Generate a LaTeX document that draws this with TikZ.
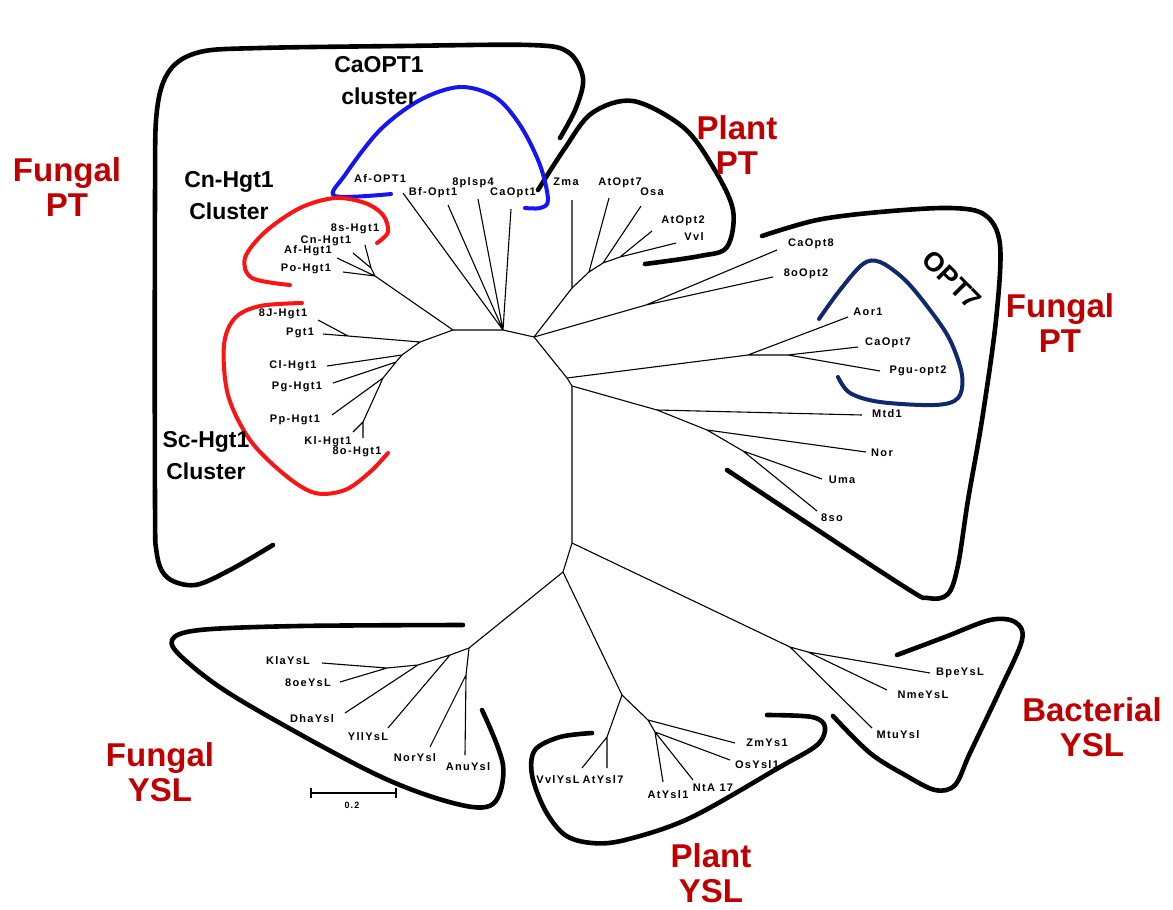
\documentclass[tikz,border=0pt]{standalone}
\usepackage{fontspec}
\setmainfont{Liberation Sans}
\newfontfamily\tipfont[LetterSpace=12]{Liberation Sans}
\definecolor{labred}{RGB}{192,0,0}
\definecolor{navy}{RGB}{16,40,110}
\definecolor{cblue}{RGB}{20,20,245}
\definecolor{cred}{RGB}{250,20,20}
\begin{document}
\begin{tikzpicture}[x=1pt,y=-1pt,
  tip/.style={font=\tipfont\bfseries\fontsize{11}{12}\selectfont, inner sep=0pt},
  br/.style={line width=1.1pt},
  hull/.style={line width=4.6pt, line cap=round, line join=round},
  cl/.style={line width=4pt, line cap=round, line join=round},
  grp/.style={font=\bfseries\fontsize{33}{35}\selectfont, text=labred, align=center},
  clu/.style={font=\bfseries\fontsize{23}{32}\selectfont, align=center}]
\useasboundingbox (0,0) rectangle (1173,910);

% ---------------- outlines ----------------
\draw[hull] plot[smooth, tension=0.55] coordinates {(273,545) (230,570) (195,585) (168,578) (157,555) (155,500) (155,200) (157,110) (170,70) (200,52) (260,48) (400,46) (530,45) (568,52) (583,78) (576,108) (560,138)};
\draw[hull] plot[smooth, tension=0.55] coordinates {(538,190) (565,148) (592,113) (633,101) (683,127) (713,167) (733,210) (727,247) (700,256) (645,264)};
\draw[hull] plot[smooth, tension=0.55] coordinates {(762,236) (817,220) (880,212) (950,208) (985,215) (1000,245) (996,320) (982,420) (968,500) (958,565) (948,594) (928,598) (900,584) (727,470)};
\draw[hull] plot[smooth, tension=0.55] coordinates {(463,625) (300,626) (200,630) (172,640) (185,660) (240,700) (373,773) (453,803) (493,804) (503,765) (482,710)};
\draw[hull] plot[smooth, tension=0.55] coordinates {(592,733) (560,737) (535,750) (532,775) (545,810) (565,835) (592,843) (625,840) (690,818) (780,767) (817,745) (825,727) (812,717) (767,715)};
\draw[hull] plot[smooth, tension=0.55] coordinates {(897,655) (945,637) (990,620) (1015,622) (1022,640) (1000,690) (970,753) (955,785) (935,790) (905,775) (870,753) (833,716)};
\draw[cl, cblue] plot[smooth, tension=0.55] coordinates {(391,194) (335,196) (345,175) (380,130) (420,100) (460,87) (495,97) (520,125) (540,165) (548,200) (540,208) (525,208)};
\draw[cl, cred] plot[smooth, tension=0.55] coordinates {(377,243) (388,232) (383,215) (365,203) (335,198) (300,208) (265,232) (245,258) (252,278) (290,285)};
\draw[cl, cred] plot[smooth, tension=0.55] coordinates {(302,303) (260,306) (235,318) (224,345) (228,395) (250,440) (285,475) (315,493) (345,490) (370,472) (388,453)};
\draw[cl, navy] plot[smooth, tension=0.55] coordinates {(819,319) (840,290) (863,264) (880,262) (905,280) (930,310) (950,340) (962,375) (958,398) (935,405) (880,402) (850,393) (838,377)};

% ---------------- internal nodes ----------------
\coordinate (T0) at (453,330);
\coordinate (T1) at (503,330);
\coordinate (T2) at (534,337);
\coordinate (T3) at (567,378);
\coordinate (T4) at (572,386);
\coordinate (T5) at (572,543);
\coordinate (T6) at (563,572);
\coordinate (H0) at (375,276);
\coordinate (H1) at (371,268);
\coordinate (S0) at (420,342);
\coordinate (SJ) at (348,336);
\coordinate (S1) at (402,355);
\coordinate (S1b) at (396,362);
\coordinate (S2) at (383,378);
\coordinate (S3) at (363,422);
\coordinate (A) at (572,288);
\coordinate (B) at (589,272);
\coordinate (C) at (603,263);
\coordinate (D) at (620,257);
\coordinate (E) at (646,305);
\coordinate (O1) at (748,355);
\coordinate (O2) at (788,355);
\coordinate (M1) at (657,410);
\coordinate (M2) at (707,430);
\coordinate (M3) at (743,451);
\coordinate (B1) at (790,647);
\coordinate (B2) at (808,652);
\coordinate (F0) at (469,648);
\coordinate (F1) at (466,675);
\coordinate (F2) at (450,655);
\coordinate (F3) at (418,665);
\coordinate (F4) at (387,668);
\coordinate (P0) at (622,695);
\coordinate (Q1) at (607,737);
\coordinate (R1) at (648,720);
\coordinate (R2) at (655,732);

% ---------------- tip ends ----------------
\coordinate (e8s) at (365,245);
\coordinate (eCn) at (353,253);
\coordinate (eAf) at (337,258);
\coordinate (ePo) at (343,272);
\coordinate (e8J) at (318,320);
\coordinate (ePgt) at (323,334);
\coordinate (eCl) at (327,366);
\coordinate (ePg) at (333,383);
\coordinate (ePp) at (332,415);
\coordinate (eKl) at (353,432);
\coordinate (e8o) at (363,438);
\coordinate (eAfO) at (403,193);
\coordinate (eBf) at (448,205);
\coordinate (e8p) at (478,199);
\coordinate (eCa1) at (511,209);
\coordinate (eZma) at (572,200);
\coordinate (eAt7) at (609,198);
\coordinate (eOsa) at (641,206);
\coordinate (eAt2) at (652,231);
\coordinate (eVvl) at (676,243);
\coordinate (eCa8) at (777,250);
\coordinate (e8o2) at (773,277);
\coordinate (eAor) at (848,317);
\coordinate (eCa7) at (858,347);
\coordinate (ePgu) at (880,371);
\coordinate (eMtd) at (862,415);
\coordinate (eNor) at (866,452);
\coordinate (eUma) at (822,479);
\coordinate (e8so) at (817,511);
\coordinate (eBpe) at (930,673);
\coordinate (eNme) at (887,690);
\coordinate (eMtu) at (872,728);
\coordinate (eAnu) at (465,755);
\coordinate (eNorY) at (430,747);
\coordinate (eYll) at (388,728);
\coordinate (eDha) at (345,713);
\coordinate (eKla) at (322,663);
\coordinate (e8oe) at (340,682);
\coordinate (eVvlY) at (582,768);
\coordinate (eAt7Y) at (607,768);
\coordinate (eZm) at (735,743);
\coordinate (eOs) at (730,760);
\coordinate (eNt) at (693,780);
\coordinate (eAt1) at (663,782);

% ---------------- branches ----------------
\draw[br] (T0) -- (T1) -- (T2) -- (T3) -- (T4) -- (T5) -- (T6);
\draw[br] (T0) -- (H0) (H0) -- (H1) (H1) -- (e8s) (H1) -- (eCn) (H0) -- (eAf) (H0) -- (ePo);
\draw[br] (T0) -- (S0) (S0) -- (SJ) (SJ) -- (ePgt) (SJ) -- (e8J) (S0) -- (S1) (S1) -- (eCl) (S1) -- (S1b) (S1b) -- (ePg) (S1b) -- (S2) (S2) -- (ePp) (S2) -- (S3) (S3) -- (eKl) (S3) -- (e8o);
\draw[br] (T1) -- (eAfO) (T1) -- (eBf) (T1) -- (e8p) (T1) -- (eCa1);
\draw[br] (T2) -- (A) (A) -- (eZma) (A) -- (B) (B) -- (eAt7) (B) -- (C) (C) -- (eOsa) (C) -- (D) (D) -- (eAt2) (D) -- (eVvl);
\draw[br] (T2) -- (E) (E) -- (eCa8) (E) -- (e8o2);
\draw[br] (T3) -- (O1) (O1) -- (eAor) (O1) -- (O2) (O2) -- (eCa7) (O2) -- (ePgu);
\draw[br] (T4) -- (M1) (M1) -- (eMtd) (M1) -- (M2) (M2) -- (eNor) (M2) -- (M3) (M3) -- (eUma) (M3) -- (e8so);
\draw[br] (T5) -- (B1) (B1) -- (eMtu) (B1) -- (B2) (B2) -- (eBpe) (B2) -- (eNme);
\draw[br] (T6) -- (F0) (F0) -- (F1) (F1) -- (eAnu) (F1) -- (eNorY) (F0) -- (F2) (F2) -- (eYll) (F2) -- (F3) (F3) -- (eDha) (F3) -- (F4) (F4) -- (eKla) (F4) -- (e8oe);
\draw[br] (T6) -- (P0) (P0) -- (Q1) (Q1) -- (eVvlY) (Q1) -- (eAt7Y) (P0) -- (R1) (R1) -- (eZm) (R1) -- (R2) (R2) -- (eOs) (R2) -- (eNt) (R2) -- (eAt1);

% ---------------- tip labels ----------------
\node[tip] (lAfO) at (380,179) {Af-OPT1};
\node[tip] (lBf) at (433,193) {Bf-Opt1};
\node[tip] (l8p) at (473,183) {8plsp4};
\node[tip] (lCa1) at (513,193) {CaOpt1};
\node[tip] (lZma) at (566,182) {Zma};
\node[tip] (lAt7) at (620,183) {AtOpt7};
\node[tip] (lOsa) at (652,192) {Osa};
\node[tip] (lAt2) at (683,221) {AtOpt2};
\node[tip] (lVvl) at (694,237) {Vvl};
\node[tip] (lCa8) at (811,244) {CaOpt8};
\node[tip] (l8o2) at (806,274) {8oOpt2};
\node[tip] (lAor) at (868,312) {Aor1};
\node[tip] (lCa7) at (888,343) {CaOpt7};
\node[tip] (lPgu) at (918,371) {Pgu-opt2};
\node[tip] (lMtd) at (887,414) {Mtd1};
\node[tip] (lNor) at (882,453) {Nor};
\node[tip] (lUma) at (842,480) {Uma};
\node[tip] (l8so) at (832,518) {8so};
\node[tip] (lBpe) at (960,673) {BpeYsL};
\node[tip] (lNme) at (923,695) {NmeYsL};
\node[tip] (lMtu) at (898,735) {MtuYsl};
\node[tip] (lZm) at (767,743) {ZmYs1};
\node[tip] (lOs) at (757,765) {OsYsl1};
\node[tip] (lNt) at (713,788) {NtA 17};
\node[tip] (lAt1) at (668,795) {AtYsl1};
\node[tip] (lAt7Y) at (603,780) {AtYsl7};
\node[tip] (lVvlY) at (558,780) {VvlYsL};
\node[tip] (lAnu) at (468,767) {AnuYsl};
\node[tip] (lNorY) at (415,758) {NorYsl};
\node[tip] (lYll) at (368,737) {YllYsL};
\node[tip] (lDha) at (312,719) {DhaYsl};
\node[tip] (l8oe) at (308,683) {8oeYsL};
\node[tip] (lKla) at (288,661) {KlaYsL};
\node[tip] (l8s) at (355,229) {8s-Hgt1};
\node[tip] (lCn) at (326,241) {Cn-Hgt1};
\node[tip] (lAf) at (308,251) {Af-Hgt1};
\node[tip] (lPo) at (306,269) {Po-Hgt1};
\node[tip] (l8J) at (283,314) {8J-Hgt1};
\node[tip] (lPgt) at (300,333) {Pgt1};
\node[tip] (lCl) at (293,366) {Cl-Hgt1};
\node[tip] (lPg) at (297,387) {Pg-Hgt1};
\node[tip] (lPp) at (295,420) {Pp-Hgt1};
\node[tip] (lKl) at (328,442) {Kl-Hgt1};
\node[tip] (l8o) at (357,452) {8o-Hgt1};

% scale bar
\coordinate (sb1) at (311,793);
\coordinate (sb2) at (396,793);
\draw[line width=1.2pt] (sb1) -- (sb2);
\draw[line width=1.2pt] (311,788) -- (311,798) (396,788) -- (396,798);
\node[tip, font=\tipfont\bfseries\fontsize{9}{10}\selectfont] (sbl) at (352,805) {0.2};

% ---------------- group labels ----------------
\node[grp] (gFPTl) at (67,187) {Fungal\\PT};
\node[grp] (gPPT) at (737,145) {Plant\\PT};
\node[grp] (gFPTr) at (1060,323) {Fungal\\PT};
\node[grp] (gBYSL) at (1092,727) {Bacterial\\YSL};
\node[grp] (gPYSL) at (711,873) {Plant\\YSL};
\node[grp] (gFYSL) at (160,772) {Fungal\\YSL};
\node[clu] (cCa) at (379,81) {CaOPT1\\cluster};
\node[clu] (cCn) at (229,196) {Cn-Hgt1\\Cluster};
\node[clu] (cSc) at (206,456) {Sc-Hgt1\\Cluster};
\node[font=\bfseries\fontsize{27}{27}\selectfont, rotate=-45, inner sep=0pt] (cOPT7) at (952,280) {OPT7};
\end{tikzpicture}
\end{document}
